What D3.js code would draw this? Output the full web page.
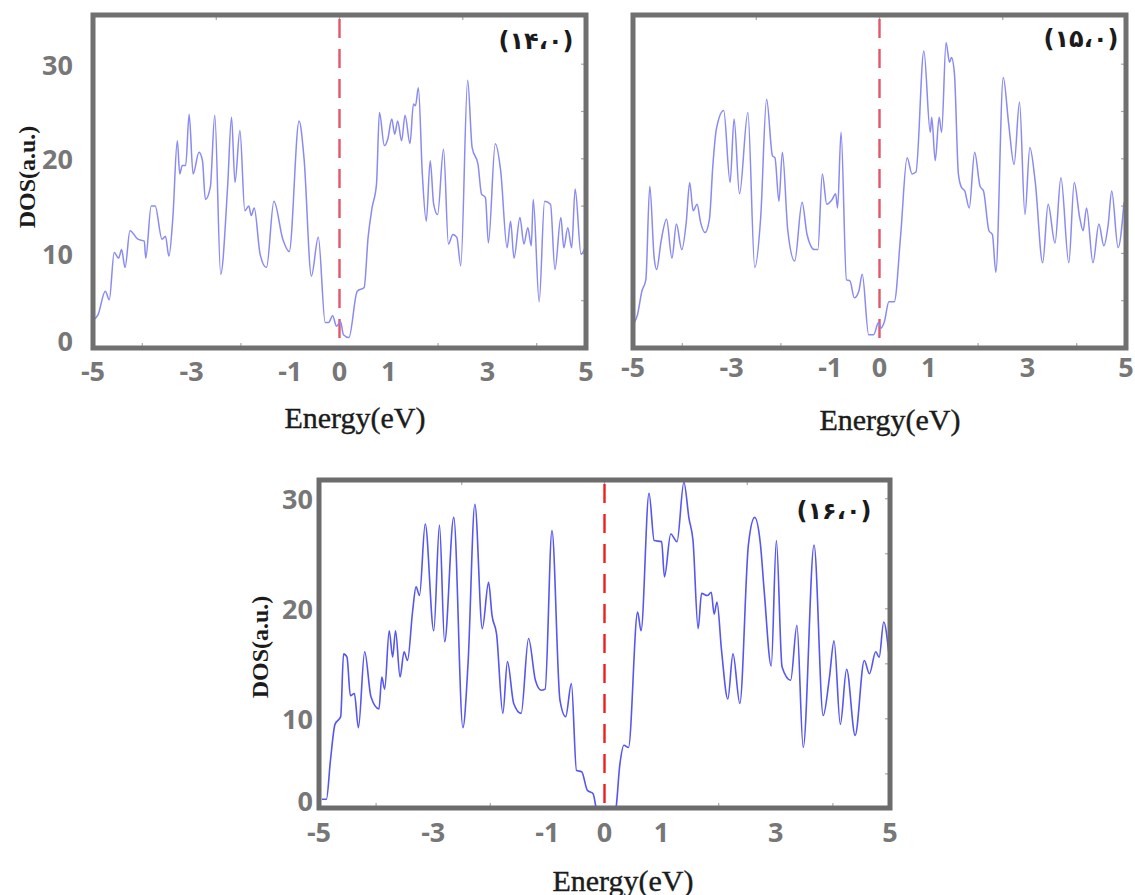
<!DOCTYPE html>
<html>
<head>
<meta charset="utf-8">
<script src="https://cdn.jsdelivr.net/npm/d3@7"></script>
<style>
  body { margin: 0; background: #ffffff; }
  svg { display: block; }
</style>
</head>
<body>
<svg id="fig" width="1135" height="895"></svg>
<script>
// Density of states vs energy for three structures (14.0, 15.0, 16.0)
const energy1 = [-4.98,-4.9,-4.75,-4.67,-4.57,-4.48,-4.42,-4.35,-4.25,-4.09,-3.96,-3.93,-3.82,-3.74,-3.6,-3.53,-3.46,-3.38,-3.29,-3.24,-3.19,-3.12,-3.05,-2.97,-2.85,-2.78,-2.72,-2.62,-2.53,-2.41,-2.27,-2.19,-2.12,-2.02,-1.92,-1.84,-1.79,-1.73,-1.61,-1.48,-1.33,-1.15,-1.02,-0.82,-0.72,-0.57,-0.43,-0.29,-0.22,-0.14,-0.06,0.02,0.08,0.19,0.36,0.5,0.58,0.66,0.75,0.81,0.91,0.98,1.06,1.12,1.18,1.26,1.33,1.43,1.5,1.54,1.6,1.68,1.76,1.84,1.91,1.99,2.11,2.21,2.3,2.38,2.46,2.6,2.69,2.81,2.88,2.96,3.02,3.16,3.27,3.4,3.47,3.54,3.66,3.74,3.82,3.89,3.93,4.05,4.16,4.28,4.37,4.49,4.55,4.63,4.71,4.78,4.9,4.98];
const dos1 = [3.0,3.5,6.0,5.1,10.1,9.5,10.4,8.5,12.4,11.5,11.3,9.5,15.0,15.0,11.5,11.8,9.7,13.8,21.9,18.4,19.3,19.3,24.7,18.4,20.7,19.8,15.7,17.0,24.6,7.8,17.0,24.4,17.5,23.0,14.5,15.0,14.0,14.8,9.9,8.5,15.5,11.5,10.2,24.0,20.1,7.6,11.7,2.7,2.7,3.4,2.3,2.8,1.4,1.1,6.0,6.4,11.7,14.8,17.3,24.9,21.4,22.1,24.2,22.6,24.0,21.9,24.6,21.6,25.8,25.6,27.5,18.4,13.4,19.8,15.2,14.1,21.0,11.0,12.0,11.7,8.7,28.3,21.2,19.4,16.3,15.9,11.1,21.6,18.7,10.6,13.4,9.5,13.8,11.0,12.7,10.8,15.7,4.9,15.5,15.2,8.3,13.8,10.6,12.7,10.6,16.8,9.9,10.6];

const energy2 = [-4.97,-4.91,-4.82,-4.74,-4.66,-4.57,-4.52,-4.43,-4.32,-4.21,-4.12,-4.01,-3.92,-3.85,-3.78,-3.7,-3.63,-3.54,-3.45,-3.38,-3.31,-3.16,-3.03,-2.95,-2.84,-2.67,-2.53,-2.41,-2.29,-2.17,-2.12,-2.04,-1.97,-1.86,-1.72,-1.57,-1.47,-1.32,-1.25,-1.16,-1.07,-0.96,-0.89,-0.85,-0.78,-0.67,-0.6,-0.51,-0.42,-0.35,-0.22,-0.12,-0.02,0.03,0.1,0.19,0.3,0.43,0.56,0.66,0.74,0.9,1.03,1.06,1.13,1.21,1.26,1.35,1.42,1.46,1.52,1.6,1.66,1.73,1.82,1.93,2.04,2.11,2.22,2.29,2.36,2.51,2.62,2.73,2.84,2.95,3.05,3.16,3.31,3.42,3.56,3.68,3.84,3.95,4.06,4.13,4.2,4.33,4.45,4.55,4.64,4.71,4.84,4.96];
const dos2 = [2.7,3.5,6.0,7.2,17.1,9.5,8.3,11.3,13.6,9.5,13.1,10.4,13.3,17.5,14.5,15.2,13.3,12.2,13.6,19.3,23.1,25.1,17.5,24.2,16.3,24.9,8.5,13.8,26.3,20.3,20.1,15.5,20.7,12.4,9.2,15.4,12.0,10.4,10.4,18.4,15.2,15.7,16.3,14.8,22.8,7.2,7.1,5.3,6.0,7.8,1.4,1.4,2.7,2.1,2.8,4.9,4.9,12.0,20.1,18.4,18.6,31.4,22.8,24.4,19.8,24.4,22.8,32.3,30.2,30.7,29.0,18.4,17.0,16.6,14.8,20.7,17.1,16.6,12.4,12.0,8.0,28.6,23.7,19.4,26.0,14.1,21.2,17.5,9.0,15.2,11.1,18.0,9.0,17.5,13.8,12.4,14.8,9.0,13.1,10.8,13.1,16.6,10.6,15.4];

const energy3 = [-4.95,-4.87,-4.8,-4.72,-4.62,-4.57,-4.51,-4.45,-4.38,-4.31,-4.2,-4.09,-3.95,-3.9,-3.85,-3.77,-3.71,-3.66,-3.58,-3.51,-3.45,-3.36,-3.3,-3.24,-3.14,-2.99,-2.89,-2.8,-2.64,-2.48,-2.39,-2.27,-2.14,-2.03,-1.97,-1.89,-1.78,-1.7,-1.59,-1.46,-1.33,-1.21,-1.11,-1.04,-0.92,-0.78,-0.68,-0.58,-0.49,-0.4,-0.3,-0.2,-0.13,0.04,0.19,0.27,0.34,0.42,0.58,0.64,0.78,0.87,1.0,1.05,1.16,1.27,1.39,1.48,1.55,1.64,1.7,1.8,1.87,1.92,1.97,2.05,2.16,2.25,2.37,2.52,2.63,2.73,2.8,2.92,3.01,3.11,3.26,3.37,3.48,3.67,3.83,3.94,4.02,4.13,4.24,4.39,4.55,4.64,4.75,4.81,4.89,4.98];
const dos3 = [2.7,2.7,6.2,9.5,10.2,15.9,15.6,12.1,12.3,9.2,16.1,12.0,10.9,13.8,12.7,18.0,15.6,18.0,13.8,16.1,15.3,19.8,22.0,21.2,27.7,18.0,27.6,17.0,28.3,9.2,15.0,29.5,18.2,22.4,19.4,17.7,10.5,15.2,11.4,10.5,17.3,13.5,12.6,12.7,27.1,11.7,10.2,13.2,5.3,5.2,3.5,3.2,1.4,-0.1,1.4,5.9,7.6,7.4,19.7,18.0,30.5,26.2,26.1,22.9,26.8,26.1,31.5,28.2,26.2,18.2,21.4,21.2,21.5,19.5,20.6,16.2,11.8,15.9,11.4,25.8,28.3,25.9,21.4,14.8,26.2,14.7,13.5,18.5,7.4,25.8,10.3,13.8,17.1,9.5,14.5,8.5,15.3,14.1,16.1,15.6,18.8,15.9];

const xTickLabels = [-5, -3, -1, 0, 1, 3, 5];
const xTickMarks = [-4, -2, 2, 4];
const xTopTickMarks = [-2.5, 0, 2.5];
const yTickLabels = [0, 10, 20, 30];
const yTickMarks = [5, 10, 15, 20, 25, 30];
const panelTitles = ["(۱۴،۰)", "(۱۵،۰)", "(۱۶،۰)"];
const xTitleText = "Energy(eV)";
const yTitleText = "DOS(a.u.)";

const panels = [
  { energy: energy1, dos: dos1, title: panelTitles[0],
    left: 93, right: 586, top: 15, bottom: 348, yDomain: [0, 35.2],
    yLabelX: 73, xLabelY: 370, xTitle: [355, 417], yTitle: [27, 177], titlePos: [536, 41],
    line: "#8a8af3", lineWidth: 1.5, dash: "#e4566a", frame: "#707070" },
  { energy: energy2, dos: dos2, title: panelTitles[1],
    left: 633, right: 1126, top: 15, bottom: 348, yDomain: [0, 35.2],
    yLabelX: null, xLabelY: 366, xTitle: [890, 419], yTitle: null, titlePos: [1081, 39],
    line: "#8a8af3", lineWidth: 1.5, dash: "#e4566a", frame: "#707070" },
  { energy: energy3, dos: dos3, title: panelTitles[2],
    left: 319, right: 890, top: 480, bottom: 808, yDomain: [1.9, 31.7],
    yLabelX: 313, xLabelY: 831, xTitle: [623, 880], yTitle: [260, 647], titlePos: [834, 511],
    line: "#5656f0", lineWidth: 1.6, dash: "#ee1f1f", frame: "#6c6c6c" }
];

const svg = d3.select("#fig");

panels.forEach((p, i) => {
  const x = d3.scaleLinear().domain([-5, 5]).range([p.left, p.right]);
  const y = d3.scaleLinear().domain(p.yDomain).range([p.bottom, p.top]);
  const g = svg.append("g");

  const clipId = "plot-clip-" + i;
  g.append("clipPath").attr("id", clipId)
    .append("rect")
    .attr("x", p.left).attr("y", p.top)
    .attr("width", p.right - p.left).attr("height", p.bottom - p.top);

  // inner tick marks on the right, bottom and top edges
  const ticks = g.append("g").attr("stroke", "#a8a8a8").attr("stroke-width", 1.2);
  ticks.selectAll("line.yr").data(yTickMarks.filter(v => y(v) > p.top + 3 && y(v) < p.bottom - 3))
    .join("line").attr("class", "yr")
    .attr("x1", p.right - 5).attr("x2", p.right)
    .attr("y1", d => y(d)).attr("y2", d => y(d));
  ticks.selectAll("line.xb").data(xTickMarks)
    .join("line").attr("class", "xb")
    .attr("x1", d => x(d)).attr("x2", d => x(d))
    .attr("y1", p.bottom - 5).attr("y2", p.bottom);
  ticks.selectAll("line.xt").data(xTopTickMarks)
    .join("line").attr("class", "xt")
    .attr("x1", d => x(d)).attr("x2", d => x(d))
    .attr("y1", p.top).attr("y2", p.top + 5);

  // Fermi level
  g.append("line")
    .attr("x1", x(0)).attr("x2", x(0))
    .attr("y1", p.top + 4).attr("y2", p.bottom)
    .attr("stroke", p.dash).attr("stroke-width", 2.4)
    .attr("stroke-dasharray", "19,11");

  // DOS curve
  const pts = p.energy.map((e, k) => [e, p.dos[k]]);
  const line = d3.line().x(d => x(d[0])).y(d => y(d[1])).curve(d3.curveMonotoneX);
  g.append("path")
    .attr("clip-path", `url(#${clipId})`)
    .attr("d", line(pts))
    .attr("fill", "none")
    .attr("stroke", p.line)
    .attr("stroke-width", p.lineWidth)
    .attr("stroke-linejoin", "round");

  // frame
  g.append("rect")
    .attr("x", p.left).attr("y", p.top)
    .attr("width", p.right - p.left).attr("height", p.bottom - p.top)
    .attr("fill", "none").attr("stroke", p.frame).attr("stroke-width", 5);

  // x tick labels
  g.selectAll("text.xl").data(xTickLabels).join("text").attr("class", "xl")
    .attr("x", d => x(d)).attr("y", p.xLabelY)
    .attr("text-anchor", "middle").attr("dominant-baseline", "central")
    .attr("font-family", "'Open Sans', 'DejaVu Sans', sans-serif")
    .attr("font-weight", "bold").attr("font-size", 27)
    .attr("fill", "#777777")
    .text(d => d);

  // y tick labels
  if (p.yLabelX !== null) {
    g.selectAll("text.yl").data(yTickLabels).join("text").attr("class", "yl")
      .attr("x", p.yLabelX)
      .attr("y", d => Math.min(y(d), p.bottom - 8))
      .attr("text-anchor", "end").attr("dominant-baseline", "central")
      .attr("font-family", "'Open Sans', 'DejaVu Sans', sans-serif")
      .attr("font-weight", "bold").attr("font-size", 27)
      .attr("fill", "#777777")
      .text(d => d);
  }

  // axis titles
  g.append("text")
    .attr("x", p.xTitle[0]).attr("y", p.xTitle[1])
    .attr("text-anchor", "middle").attr("dominant-baseline", "central")
    .attr("font-family", "'Liberation Serif', 'Times New Roman', serif")
    .attr("font-size", 30).attr("fill", "#1b1b1b")
    .attr("stroke", "#1b1b1b").attr("stroke-width", 0.4)
    .text(xTitleText);
  if (p.yTitle) {
    g.append("text")
      .attr("transform", `translate(${p.yTitle[0]},${p.yTitle[1]}) rotate(-90)`)
      .attr("text-anchor", "middle").attr("dominant-baseline", "central")
      .attr("font-family", "'Liberation Serif', 'Times New Roman', serif")
      .attr("font-weight", "bold").attr("font-size", 24).attr("fill", "#1b1b1b")
      .text(yTitleText);
  }

  // panel tag
  g.append("text")
    .attr("x", p.titlePos[0]).attr("y", p.titlePos[1])
    .attr("text-anchor", "middle").attr("dominant-baseline", "central")
    .attr("direction", "ltr")
    .attr("font-family", "'DejaVu Sans', sans-serif")
    .attr("font-weight", "bold").attr("font-size", 24).attr("fill", "#1b1b1b")
    .attr("letter-spacing", 2)
    .text(p.title);
});
</script>
</body>
</html>
